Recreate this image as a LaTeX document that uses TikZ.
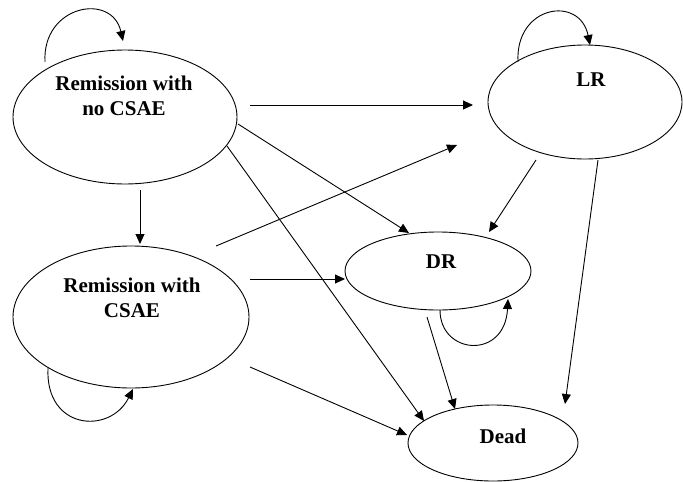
\documentclass[tikz,border=0pt]{standalone}
\usepackage{fontspec}
\setmainfont{Liberation Serif}
\usetikzlibrary{shapes.geometric,arrows.meta}
\begin{document}
\begin{tikzpicture}[x=1pt,y=-1pt,
  state/.style={draw,ellipse,inner sep=0pt,line width=0.9pt},
  lbl/.style={font=\fontsize{21}{25}\selectfont\bfseries,align=center,inner sep=0pt},
  arr/.style={line width=0.9pt,-{Triangle[length=10pt,width=9pt]}}]
\useasboundingbox (0,0) rectangle (683,482);
% states
\node[state,minimum width=224pt,minimum height=134pt] (e1) at (125,117) {};
\node[state,minimum width=194pt,minimum height=114pt] (e2) at (585,102) {};
\node[state,minimum width=186pt,minimum height=78pt] (e3) at (438,271) {};
\node[state,minimum width=236pt,minimum height=142pt] (e4) at (131,317) {};
\node[state,minimum width=170pt,minimum height=76pt] (e5) at (493,443) {};
% labels
\node[lbl] (t1) at (124,96) {Remission with\\no CSAE};
\node[lbl] (t2) at (591,80) {LR};
\node[lbl] (t3) at (441,262) {DR};
\node[lbl] (t4) at (132,298) {Remission with\\CSAE};
\node[lbl] (t5) at (503,436) {Dead};
% connector endpoints
\coordinate (a1s) at (250,105); \coordinate (a1e) at (473,105);
\coordinate (a2s) at (238,124); \coordinate (a2e) at (409,233);
\coordinate (a3s) at (227,146); \coordinate (a3e) at (424,421);
\coordinate (a4s) at (140,190); \coordinate (a4e) at (140,244);
\coordinate (a5s) at (216,246); \coordinate (a5e) at (457,145);
\coordinate (a6s) at (250,279); \coordinate (a6e) at (345,279);
\coordinate (a7s) at (250,367); \coordinate (a7e) at (407,435);
\coordinate (a8s) at (536,160); \coordinate (a8e) at (489,232);
\coordinate (a9s) at (598,160); \coordinate (a9e) at (565,404);
\coordinate (a10s) at (427,317); \coordinate (a10e) at (455,409);
% transitions
\draw[arr] (a1s) -- (a1e);
\draw[arr] (a2s) -- (a2e);
\draw[arr] (a3s) -- (a3e);
\draw[arr] (a4s) -- (a4e);
\draw[arr] (a5s) -- (a5e);
\draw[arr] (a6s) -- (a6e);
\draw[arr] (a7s) -- (a7e);
\draw[arr] (a8s) -- (a8e);
\draw[arr] (a9s) -- (a9e);
\draw[arr] (a10s) -- (a10e);
% self loops
\coordinate (l1s) at (45,62); \coordinate (l1e) at (123,41);
\coordinate (l2s) at (518,62); \coordinate (l2e) at (590,45);
\coordinate (l3s) at (440,310); \coordinate (l3e) at (508,299);
\coordinate (l4s) at (48,368); \coordinate (l4e) at (133,389);
\draw[arr] (l1s) .. controls (42,5) and (112,-8) .. (l1e);
\draw[arr] (l2s) .. controls (515,5) and (580,-5) .. (l2e);
\draw[arr] (l3s) .. controls (440,355) and (505,360) .. (l3e);
\draw[arr] (l4s) .. controls (45,430) and (110,435) .. (l4e);
\end{tikzpicture}
\end{document}
